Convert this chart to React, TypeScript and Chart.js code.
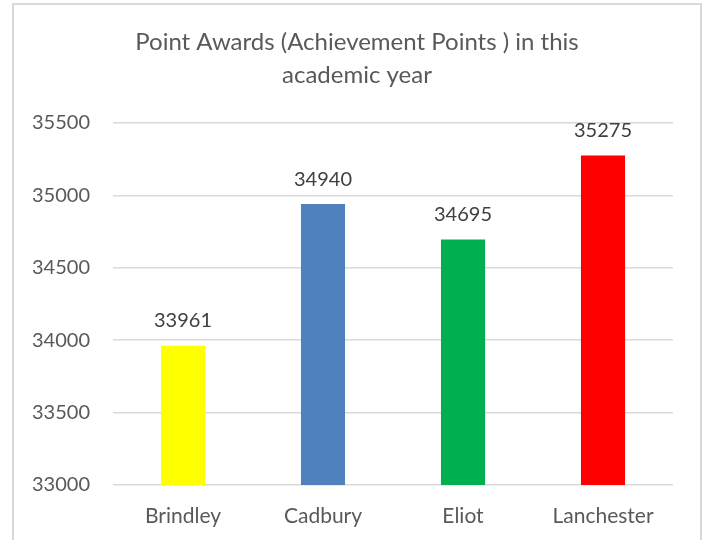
import React, { useEffect, useRef } from "react";
import { Chart, registerables } from "chart.js";

Chart.register(...registerables);

const categories = ["Brindley", "Cadbury", "Eliot", "Lanchester"];
const points = [33961, 34940, 34695, 35275];
const barColors = ["#FFFF00", "#4F81BD", "#00B050", "#FF0000"];
const titleLines = ["Point Awards (Achievement Points ) in this", "academic year"];
const yMin = 33000;
const yMax = 35500;
const yStep = 500;

const FONT = "Lato, 'Open Sans', sans-serif";

const titlePlugin = {
  id: "customTitle",
  afterDraw(chart: any) {
    const ctx = chart.ctx;
    ctx.save();
    ctx.font = `24px ${FONT}`;
    ctx.fillStyle = "#595959";
    ctx.textAlign = "center";
    ctx.textBaseline = "middle";
    titleLines.forEach((t, i) => ctx.fillText(t, 357, 42 + i * 33));
    ctx.restore();
  },
};

const labelPlugin = {
  id: "barLabels",
  afterDatasetsDraw(chart: any) {
    const ctx = chart.ctx;
    const meta = chart.getDatasetMeta(0);
    ctx.save();
    ctx.font = `20px ${FONT}`;
    ctx.fillStyle = "#404040";
    ctx.textAlign = "center";
    ctx.textBaseline = "middle";
    meta.data.forEach((bar: any, i: number) => {
      ctx.fillText(String(points[i]), bar.x, bar.y - 25);
    });
    ctx.restore();
  },
};

export default function App() {
  const ref = useRef<HTMLCanvasElement>(null);
  useEffect(() => {
    document.body.style.margin = "0";
    document.body.style.background = "#ffffff";
    const chart = new Chart(ref.current as HTMLCanvasElement, {
      type: "bar",
      data: {
        labels: categories,
        datasets: [
          {
            data: points,
            backgroundColor: barColors,
            categoryPercentage: 1,
            barPercentage: 0.315,
          },
        ],
      },
      options: {
        responsive: false,
        animation: false,
        layout: { padding: { left: 0, right: 32, top: 123, bottom: 0 } },
        plugins: {
          legend: { display: false },
          title: { display: false },
          tooltip: { enabled: false },
        },
        scales: {
          x: {
            grid: { display: false, drawTicks: false },
            border: { display: false },
            ticks: { color: "#595959", font: { family: FONT, size: 21 }, padding: 19 },
            afterFit: (s: any) => {
              s.height = 55;
            },
          },
          y: {
            min: yMin,
            max: yMax,
            ticks: {
              stepSize: yStep,
              color: "#595959",
              font: { family: FONT, size: 20 },
              padding: 23,
              callback: (v: any) => String(v),
            },
            grid: { color: "#d9d9d9", lineWidth: 1.5, drawTicks: false },
            border: { display: false },
            afterFit: (s: any) => {
              s.width = 113;
            },
          },
        },
      },
      plugins: [titlePlugin, labelPlugin],
    });
    return () => chart.destroy();
  }, []);
  return (
    <div style={{ position: "relative", width: 705, height: 540, overflow: "hidden", background: "#fff" }}>
      <canvas ref={ref} width={705} height={540} style={{ display: "block" }} />
      <div
        style={{
          position: "absolute",
          left: 12,
          top: 3,
          width: 686,
          height: 600,
          border: "2px solid #d9d9d9",
          pointerEvents: "none",
        }}
      />
    </div>
  );
}
